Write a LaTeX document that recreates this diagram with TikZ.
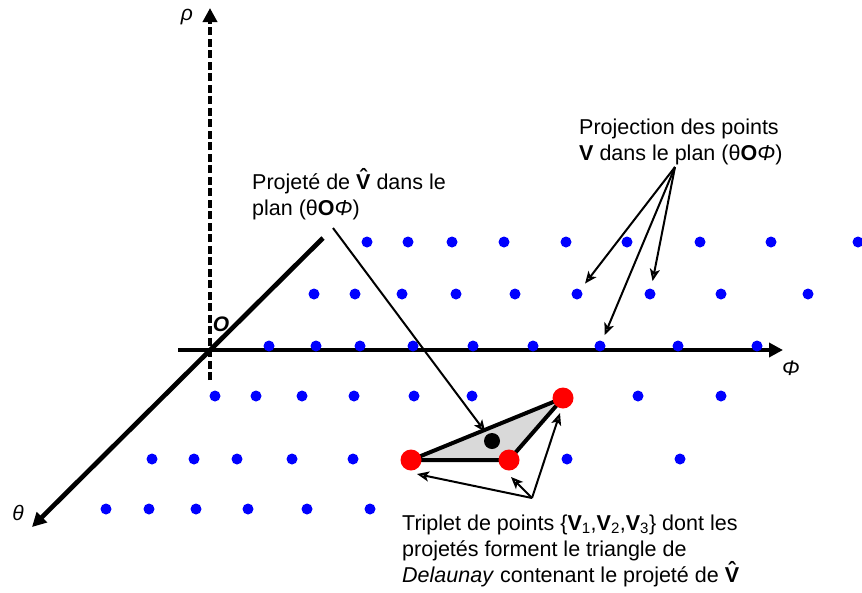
\documentclass[tikz,border=0pt]{standalone}
\usepackage{fontspec}
\setmainfont{Liberation Sans}
\usetikzlibrary{arrows.meta}
\definecolor{dotblue}{RGB}{0,0,255}
\definecolor{trigray}{RGB}{217,217,217}
\newcommand\Vh{\textbf{\ooalign{V\cr\hidewidth\raisebox{0.2em}{ˆ}\hidewidth\cr}}}
\begin{document}
\begin{tikzpicture}[x=1pt,y=-1pt]
\tikzset{
 bdot/.style={circle, fill=dotblue, inner sep=0pt, minimum size=11pt},
 rdot/.style={circle, fill=red, inner sep=0pt, minimum size=21pt},
 kdot/.style={circle, fill=black, inner sep=0pt, minimum size=16pt},
 axisline/.style={line width=4.7pt, -{Triangle[length=14pt,width=14pt]}},
 ptr/.style={line width=2pt, -{Stealth[open, length=12pt, width=10pt, inset=3pt]}},
 lbl/.style={inner sep=0pt, anchor=base west, align=left, font=\fontsize{21.5}{26}\selectfont},
 axlbl/.style={inner sep=0pt, font=\fontsize{21}{25}\selectfont\itshape},
}
\useasboundingbox (0,0) rectangle (862,592);
% axes
\coordinate (thS) at (323,238);
\coordinate (thE) at (32,527);
\coordinate (phS) at (178,350);
\coordinate (phE) at (783,350);
\coordinate (rhS) at (210,380);
\coordinate (rhE) at (210,8);
\draw[axisline] (thS) -- (thE);
\draw[axisline] (phS) -- (phE);
\draw[axisline, dash pattern=on 8pt off 3.5pt] (rhS) -- (rhE);
\node[axlbl] (rho) at (187,17) {ρ};
\node[axlbl] (phi) at (791,368) {Φ};
\node[axlbl] (theta) at (18,513) {θ};
\node[axlbl, font=\fontsize{21}{25}\selectfont\bfseries\itshape] (O) at (221,324) {O};
% blue dots
\foreach \x [count=\i] in {367,408,452,504,566,627,700,771,858} \node[bdot] (a\i) at (\x,242) {};
\foreach \x [count=\i] in {314,355,402,456,515,577,650,721,808} \node[bdot] (b\i) at (\x,294) {};
\foreach \x [count=\i] in {269,316,360,413,473,533,600,678,757} \node[bdot] (c\i) at (\x,346) {};
\foreach \x [count=\i] in {215,256,302,354,414,472,638,721} \node[bdot] (d\i) at (\x,396) {};
\foreach \x [count=\i] in {152,194,237,292,353,567,680} \node[bdot] (e\i) at (\x,459) {};
\foreach \x [count=\i] in {106,149,196,248,307,370} \node[bdot] (f\i) at (\x,509) {};
% triangle
\coordinate (p1) at (411,460);
\coordinate (p2) at (509,460);
\coordinate (p3) at (563,398);
\filldraw[fill=trigray, line width=4pt, line join=round] (p1) -- (p3) -- (p2) -- cycle;
% labels (base = baseline of last line)
\node[lbl] (lp) at (252,215) {Projeté de \Vh{} dans le\\plan (θ\textbf{O}\textit{Φ})};
\node[lbl] (lq) at (579,160) {Projection des points\\\textbf{V} dans le plan (θ\textbf{O}\textit{Φ})};
\node[lbl] (lt) at (402,582) {Triplet de points \{\textbf{V}\textsubscript{1},\textbf{V}\textsubscript{2},\textbf{V}\textsubscript{3}\} dont les\\projetés forment le triangle de\\\textit{Delaunay} contenant le projeté de \Vh};
% dots on top
\node[rdot] (R1) at (p1) {};
\node[rdot] (R2) at (p2) {};
\node[rdot] (R3) at (p3) {};
\node[kdot] (K) at (492,441) {};
% arrows
\coordinate (sp) at (333,228);
\draw[ptr, shorten >=3pt] (sp) -- (K);
\coordinate (pq) at (675,167);
\draw[ptr, shorten >=7.5pt] (pq) -- (b6);
\draw[ptr, shorten >=7.5pt] (pq) -- (b7);
\draw[ptr, shorten >=6pt] (pq) -- (c7);
\coordinate (tq) at (532,498);
\coordinate (t1) at (417,474);
\coordinate (t2) at (511,477);
\coordinate (t3) at (560,413);
\draw[ptr] (tq) -- (t1);
\draw[ptr] (tq) -- (t2);
\draw[ptr] (tq) -- (t3);
\end{tikzpicture}
\end{document}
